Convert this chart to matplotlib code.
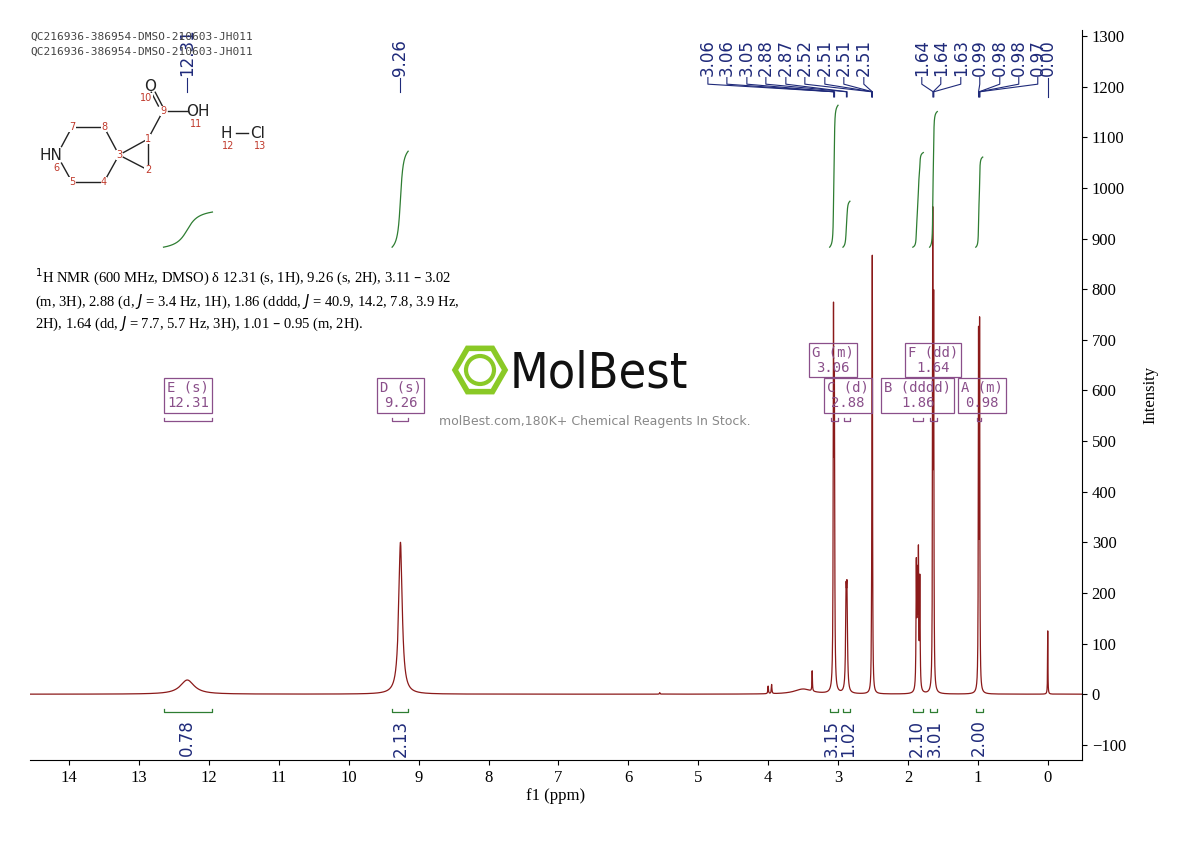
import numpy as np
import matplotlib
matplotlib.use("Agg")
import matplotlib.pyplot as plt
from matplotlib.patches import RegularPolygon, Circle

# ---- data ----
peak_ppm = [12.31, 9.26, 3.065, 3.052, 2.885, 2.872, 2.52, 2.51, 1.88, 1.865, 1.85, 1.83,
            1.645, 1.632, 0.99, 0.975, 0.00, 3.37, 3.5, 4.0, 3.95, 5.55]
peak_h = [28, 300, 700, 560, 170, 175, 120, 850, 240, 200, 255, 215,
          900, 720, 680, 700, 125, 40, 10, 15, 18, 3]
peak_w = [0.12, 0.03, 0.005, 0.005, 0.008, 0.008, 0.004, 0.004, 0.005, 0.005, 0.005, 0.005,
          0.004, 0.004, 0.004, 0.004, 0.003, 0.004, 0.15, 0.005, 0.005, 0.005]

label_texts = ["3.06", "3.06", "3.05", "2.88", "2.87", "2.52", "2.51", "2.51", "2.51",
               "1.64", "1.64", "1.63", "0.99", "0.98", "0.98", "0.97", "0.00"]
label_pos = [3.06, 3.06, 3.05, 2.88, 2.87, 2.52, 2.51, 2.51, 2.51,
             1.64, 1.64, 1.63, 0.99, 0.98, 0.98, 0.97, 0.00]
label_px = [708, 727, 747, 766, 786, 805, 825, 844, 864, 922, 941, 961, 980, 1000, 1019, 1038, 1048]
single_labels = [("12.31", 12.31), ("9.26", 9.26)]

integ_lo = [11.95, 9.15, 3.0, 2.83, 1.78, 1.58, 0.93]
integ_hi = [12.65, 9.38, 3.12, 2.93, 1.93, 1.69, 1.03]
integ_val = [0.78, 2.13, 3.15, 1.02, 2.10, 3.01, 2.00]
integ_lab_ppm = [12.31, 9.26, 3.09, 2.86, 1.87, 1.62, 0.98]

box_text = ["G (m)\n3.06", "F (dd)\n1.64", "E (s)\n12.31", "D (s)\n9.26",
            "C (d)\n2.88", "B (dddd)\n1.86", "A (m)\n0.98"]
box_ppm = [3.07, 1.64, 12.3, 9.26, 2.86, 1.86, 0.94]
box_y = [660, 660, 590, 590, 590, 590, 590]
mult_lo = [11.95, 9.15, 3.0, 2.83, 1.78, 1.58, 0.95]
mult_hi = [12.65, 9.38, 3.10, 2.92, 1.93, 1.69, 1.01]

xticks = list(range(0, 15))
yticks = list(range(-100, 1301, 100))

# ---- figure ----
fig = plt.figure(figsize=(11.9, 8.41), dpi=100)
ax = fig.add_axes([30/1190, 81/841, 1052/1190, 730/841])
x = np.linspace(-0.5, 14.6, 60000)
y = np.zeros_like(x)
for p, h, w in zip(peak_ppm, peak_h, peak_w):
    y += h * w**2 / ((x - p)**2 + w**2)
ax.plot(x, y, color="#8b1a1a", lw=0.9)
ax.set_xlim(14.56, -0.49)
ax.set_ylim(-130, 1312)

for s in ["left", "top"]:
    ax.spines[s].set_visible(False)
ax.yaxis.tick_right()
ax.yaxis.set_label_position("right")
ax.set_yticks(yticks)
ax.set_xticks(xticks)
ax.tick_params(labelsize=12)
for t in ax.get_xticklabels() + ax.get_yticklabels():
    t.set_fontfamily("Liberation Serif")
ax.set_xlabel("f1 (ppm)", fontsize=12, family="Liberation Serif", labelpad=2)
ax.set_ylabel("Intensity", fontsize=12, family="Liberation Serif", labelpad=12)

navy = "#1f2a7a"
def px2ppm(px):
    return (1048 - px) / 69.93
for t, p, lp in zip(label_texts, label_pos, label_px):
    lx = px2ppm(lp)
    ax.text(lx, 1222, t, rotation=90, ha="center", va="bottom", fontsize=12, color=navy)
    ax.plot([lx, lx, p, p], [1218, 1205, 1190, 1180], color=navy, lw=0.8)
for t, p in single_labels:
    ax.text(p, 1222, t, rotation=90, ha="center", va="bottom", fontsize=12, color=navy)
    ax.plot([p, p], [1218, 1190], color=navy, lw=0.8)

green = "#2e7d32"
for lo, hi, v, lp in zip(integ_lo, integ_hi, integ_val, integ_lab_ppm):
    m = (x >= lo) & (x <= hi)
    xs = x[m][::-1]
    cs = np.cumsum(y[m][::-1])
    cs = cs / cs[-1] * v * 89
    ax.plot(xs, 883 + cs, color=green, lw=0.9)
    ax.plot([lo, lo, hi, hi], [-30, -36, -36, -30], color=green, lw=0.9)
    ax.text(lp, -50, f"{v:.2f}", rotation=90, ha="center", va="top", fontsize=12, color=navy)

purple = "#8a4f8a"
for t, p, by, lo, hi in zip(box_text, box_ppm, box_y, mult_lo, mult_hi):
    ax.text(p, by, t, ha="center", va="center", fontsize=10, family="DejaVu Sans Mono",
            color=purple, linespacing=1.1,
            bbox=dict(boxstyle="square,pad=0.2", fc="none", ec=purple, lw=0.9))
    ax.plot([lo, lo, hi, hi], [545, 540, 540, 545], color=purple, lw=0.9)

fig.text(30/1190, 1-37/841, "QC216936-386954-DMSO-210603-JH011", fontsize=8,
         family="DejaVu Sans Mono", color="#444444", va="center")
fig.text(30/1190, 1-52/841, "QC216936-386954-DMSO-210603-JH011", fontsize=8,
         family="DejaVu Sans Mono", color="#444444", va="center")
fig.text(35/1190, 1-300/841,
         "$^1$H NMR (600 MHz, DMSO) δ 12.31 (s, 1H), 9.26 (s, 2H), 3.11 – 3.02\n"
         "(m, 3H), 2.88 (d, $J$ = 3.4 Hz, 1H), 1.86 (dddd, $J$ = 40.9, 14.2, 7.8, 3.9 Hz,\n"
         "2H), 1.64 (dd, $J$ = 7.7, 5.7 Hz, 3H), 1.01 – 0.95 (m, 2H).",
         fontsize=10.5, family="Liberation Serif", va="center", linespacing=1.35)

fig.text(510/1190, 1-374/841, "MolBest", fontsize=36, color="#111111", va="center", ha="left",
         family="DejaVu Sans", stretch="condensed")
fig.text(595/1190, 1-421/841, "molBest.com,180K+ Chemical Reagents In Stock.",
         fontsize=9, color="#888888", ha="center", va="center")
wax = fig.add_axes([0, 0, 1, 1], facecolor="none")
wax.set_xlim(0, 1190); wax.set_ylim(841, 0); wax.axis("off")
wax.add_patch(RegularPolygon((480, 370), 6, radius=25, orientation=np.pi/2, fc="none", ec="#8ac926", lw=4))
wax.add_patch(Circle((480, 370), 14, fc="none", ec="#8ac926", lw=3))

# molecule
P = {"N": (57, 155), "7": (72, 127), "8": (104, 127), "3": (119, 155), "4": (104, 182),
     "5": (72, 182), "1": (148, 139), "2": (148, 170), "9": (163, 111), "O": (150, 86),
     "OH": (198, 111), "H": (226, 133), "Cl": (258, 133)}
def seg(a, b, s0=0.0, s1=1.0, off=(0, 0)):
    (x0, y0), (x1, y1) = P[a], P[b]
    wax.plot([x0 + (x1-x0)*s0 + off[0], x0 + (x1-x0)*s1 + off[0]],
             [y0 + (y1-y0)*s0 + off[1], y0 + (y1-y0)*s1 + off[1]], color="#222222", lw=1)
seg("N", "7", 0.3, 1); seg("7", "8"); seg("8", "3", 0, 0.8); seg("3", "4", 0.2, 1)
seg("4", "5"); seg("5", "N", 0, 0.7); seg("3", "1", 0.15, 0.9); seg("3", "2", 0.15, 0.9)
seg("1", "2", 0.15, 0.85); seg("1", "9", 0.15, 0.85)
seg("9", "O", 0.2, 0.75, (-2, 0)); seg("9", "O", 0.2, 0.75, (2, 0))
seg("9", "OH", 0.15, 0.72); seg("H", "Cl", 0.3, 0.7)
for t, k in [("O", "O"), ("OH", "OH"), ("HN", "N"), ("H", "H"), ("Cl", "Cl")]:
    wax.text(P[k][0] - (6 if t == "HN" else 0), P[k][1], t, fontsize=11, color="#222", ha="center", va="center")
red = "#c0392b"
for t, xx, yy in [("10", 146, 98), ("9", 163, 111), ("11", 196, 124), ("7", 72, 127),
                  ("8", 104, 127), ("1", 148, 139), ("3", 119, 155), ("2", 148, 170),
                  ("6", 56, 168), ("5", 72, 182), ("4", 104, 182), ("12", 228, 146), ("13", 260, 146)]:
    wax.text(xx, yy, t, fontsize=7, color=red, ha="center", va="center",
             bbox=dict(fc="white", ec="none", pad=0.3))

fig.savefig("out.png", dpi=100)
